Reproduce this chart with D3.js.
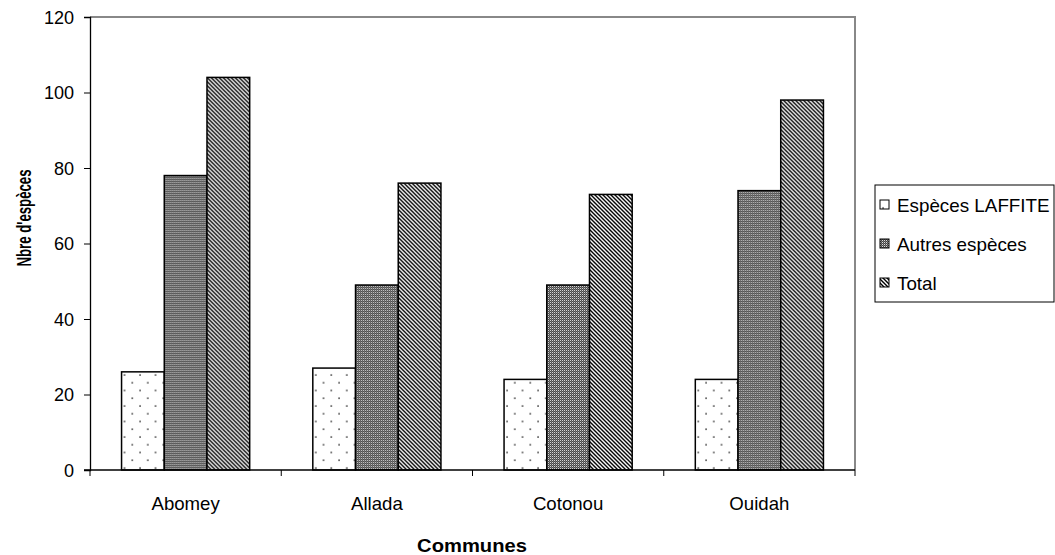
<!DOCTYPE html>
<html>
<head>
<meta charset="utf-8">
<script src="https://cdn.jsdelivr.net/npm/d3@7"></script>
<style>
  body { margin: 0; background: #fff; }
  svg { display: block; }
  text { font-family: 'Liberation Sans', Arial, sans-serif; fill: #000; }
</style>
</head>
<body>
<svg id="chart" width="1055" height="555"></svg>
<script>
// data
var communes = ['Abomey', 'Allada', 'Cotonou', 'Ouidah']
var seriesNames = ['Espèces LAFFITE', 'Autres espèces', 'Total']
var laffite = [26, 27, 24, 24]
var autres = [78, 49, 49, 74]
var total = [104, 76, 73, 98]
var yTicks = [0, 20, 40, 60, 80, 100, 120]

var seriesValues = [laffite, autres, total]
var patternIds = ['pat-dots', 'pat-check', 'pat-hatch']

var svg = d3.select('#chart')
var plot = { left: 90, right: 855, top: 17, bottom: 470 }

// fill patterns
var defs = svg.append('defs')
var dots = defs.append('pattern').attr('id', 'pat-dots')
  .attr('patternUnits', 'userSpaceOnUse').attr('width', 15.5).attr('height', 15.5)
dots.append('rect').attr('width', 15.5).attr('height', 15.5).attr('fill', '#fff')
dots.append('circle').attr('cx', 3).attr('cy', 3).attr('r', 0.9).attr('fill', '#333')
dots.append('circle').attr('cx', 10.75).attr('cy', 10.75).attr('r', 0.9).attr('fill', '#333')

var check = defs.append('pattern').attr('id', 'pat-check')
  .attr('patternUnits', 'userSpaceOnUse').attr('width', 2).attr('height', 2)
check.append('rect').attr('width', 2).attr('height', 2).attr('fill', '#444')
check.append('rect').attr('width', 1).attr('height', 1).attr('fill', '#ddd')
check.append('rect').attr('x', 1).attr('y', 1).attr('width', 1).attr('height', 1).attr('fill', '#777')

var hatch = defs.append('pattern').attr('id', 'pat-hatch')
  .attr('patternUnits', 'userSpaceOnUse').attr('width', 4).attr('height', 4)
hatch.append('rect').attr('width', 4).attr('height', 4).attr('fill', '#fff')
hatch.append('path').attr('d', 'M-1,-1L5,5M-1,3L1,5M3,-1L5,1')
  .attr('stroke', '#000').attr('stroke-width', 1.4)

// scales
var x0 = d3.scaleBand().domain(communes).range([plot.left, plot.right])
  .paddingInner(0.33).paddingOuter(0.165)
var x1 = d3.scaleBand().domain(d3.range(seriesNames.length)).range([0, x0.bandwidth()])
var y = d3.scaleLinear().domain([0, 120]).range([plot.bottom, plot.top])

// gray top and right frame
svg.append('path')
  .attr('d', 'M' + plot.left + ',' + plot.top + 'H' + plot.right + 'V' + plot.bottom)
  .attr('fill', 'none').attr('stroke', '#888').attr('stroke-width', 2)

// bars
var groups = svg.append('g').selectAll('g').data(communes).join('g')
  .attr('transform', function (d) { return 'translate(' + x0(d) + ',0)' })
groups.selectAll('rect')
  .data(function (d, i) { return seriesValues.map(function (s, k) { return { k: k, v: s[i] } }) })
  .join('rect')
  .attr('x', function (d) { return x1(d.k) })
  .attr('width', x1.bandwidth())
  .attr('y', function (d) { return y(d.v) })
  .attr('height', function (d) { return y(0) - y(d.v) })
  .attr('fill', function (d) { return 'url(#' + patternIds[d.k] + ')' })
  .attr('stroke', '#000').attr('stroke-width', 1.5)

// y axis
var yAxis = svg.append('g').attr('transform', 'translate(' + plot.left + ',0)')
  .call(d3.axisLeft(y).tickValues(yTicks).tickSize(6).tickPadding(10))
yAxis.select('.domain').attr('stroke', '#000').attr('stroke-width', 1.3)
yAxis.selectAll('.tick line').attr('stroke', '#000')
yAxis.selectAll('.tick text').attr('data-stretch', 0.95).style('font-size', '19px')
  .style('font-family', "'Liberation Sans', Arial, sans-serif").attr('fill', '#000')

// x axis: ticks between categories
var bounds = d3.range(communes.length + 1).map(function (i) { return plot.left + i * x0.step() })
svg.append('line').attr('x1', plot.left - 6).attr('x2', plot.right)
  .attr('y1', plot.bottom).attr('y2', plot.bottom).attr('stroke', '#000').attr('stroke-width', 1.3)
svg.append('g').selectAll('line').data(bounds).join('line')
  .attr('x1', function (d) { return d }).attr('x2', function (d) { return d })
  .attr('y1', plot.bottom).attr('y2', plot.bottom + 6).attr('stroke', '#000')
svg.append('g').selectAll('text').data(communes).join('text')
  .attr('data-stretch', 0.98)
  .attr('x', function (d) { return x0(d) + x0.bandwidth() / 2 })
  .attr('y', 510).attr('text-anchor', 'middle').style('font-size', '19px')
  .text(function (d) { return d })

// axis titles
svg.append('text').attr('data-stretch', 1.12)
  .attr('x', 472).attr('y', 552).attr('text-anchor', 'middle')
  .style('font-size', '18px').style('font-weight', 'bold')
  .text('Communes')
svg.append('text').attr('data-stretch', 0.66)
  .attr('transform', 'translate(31,218) rotate(-90)')
  .attr('text-anchor', 'middle')
  .style('font-size', '20px').style('font-weight', 'bold')
  .text("Nbre d'espèces")

// legend
var legend = svg.append('g')
legend.append('rect').attr('x', 875).attr('y', 185).attr('width', 179).attr('height', 117)
  .attr('fill', '#fff').attr('stroke', '#000').attr('stroke-width', 1)
var items = legend.selectAll('g.item').data(seriesNames).join('g').attr('class', 'item')
  .attr('transform', function (d, i) { return 'translate(880,' + (205 + i * 39) + ')' })
items.append('rect').attr('x', 0).attr('y', -5).attr('width', 9).attr('height', 9)
  .attr('fill', function (d, i) { return 'url(#' + patternIds[i] + ')' })
  .attr('stroke', '#000').attr('stroke-width', 1)
items.append('text').attr('data-stretch', 0.99).attr('x', 17).attr('y', 7)
  .style('font-size', '19px').text(function (d) { return d })

// the reference glyphs are a bit narrower or wider than the font, adjust text lengths
svg.selectAll('text[data-stretch]').each(function () {
  var w = this.getComputedTextLength()
  var f = +this.getAttribute('data-stretch')
  d3.select(this).attr('textLength', w * f).attr('lengthAdjust', 'spacingAndGlyphs')
})
</script>
</body>
</html>
